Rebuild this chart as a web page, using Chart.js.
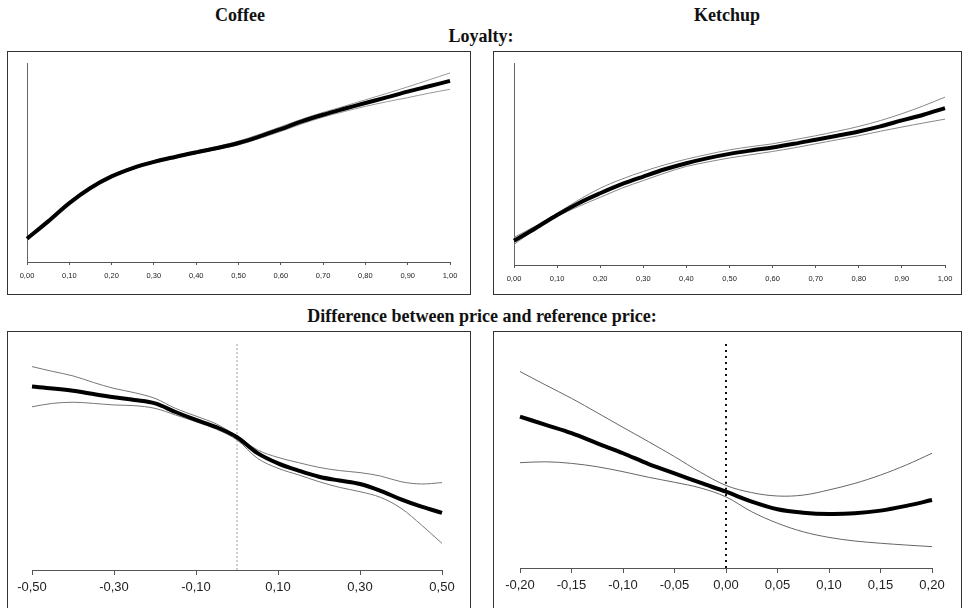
<!DOCTYPE html>
<html>
<head>
<meta charset="utf-8">
<title>Loyalty | Reference price</title>
<script src="https://cdn.jsdelivr.net/npm/chart.js@4.4.0/dist/chart.umd.min.js"></script>
<style>
  body { margin: 0; background: #fff; width: 962px; height: 608px; overflow: hidden; position: relative; font-family: "Liberation Serif", serif; }
  .ttl { position: absolute; font-weight: bold; font-size: 18px; line-height: 18px; color: #111; white-space: nowrap; transform: translateX(-50%); }
  .box { position: absolute; border: 1px solid #333; }
  .box canvas { position: absolute; left: 0; top: 0; }
</style>
</head>
<body>
<div class="ttl" style="left:240px; top:6px">Coffee</div>
<div class="ttl" style="left:727px; top:6px">Ketchup</div>
<div class="ttl" style="left:481px; top:27px">Loyalty:</div>
<div class="ttl" style="left:482px; top:307px">Difference between price and reference price:</div>

<div class="box" style="left:7px; top:51px; width:462px; height:242px"><canvas id="coffeeLoyalty" width="462" height="242"></canvas></div>
<div class="box" style="left:493px; top:51px; width:467px; height:242px"><canvas id="ketchupLoyalty" width="467" height="242"></canvas></div>
<div class="box" style="left:7px; top:331px; width:462px; height:290px"><canvas id="coffeePrice" width="462" height="276"></canvas></div>
<div class="box" style="left:493px; top:331px; width:467px; height:290px"><canvas id="ketchupPrice" width="467" height="276"></canvas></div>

<script>
// loyalty panels (y in relative units, no scale shown)
const loyaltyX = [0, 0.05, 0.10, 0.15, 0.20, 0.25, 0.30, 0.35, 0.40, 0.45, 0.50, 0.55, 0.60, 0.65, 0.70, 0.75, 0.80, 0.85, 0.90, 0.95, 1.00];
const loyaltyTicks = [0, 0.1, 0.2, 0.3, 0.4, 0.5, 0.6, 0.7, 0.8, 0.9, 1.0];

const coffeeLoyaltyFit   = [11.7, 20.4, 29.6, 37.2, 43.0, 47.2, 50.3, 52.8, 55.1, 57.3, 59.8, 63.1, 66.8, 70.7, 74.0, 77.0, 79.9, 82.7, 85.6, 88.3, 91.0];
const coffeeLoyaltyUpper = [12.3, 21.0, 30.2, 37.8, 43.6, 47.8, 50.9, 53.4, 55.8, 58.1, 60.8, 64.2, 68.0, 71.8, 75.2, 78.3, 81.5, 84.7, 88.0, 91.5, 95.0];
const coffeeLoyaltyLower = [11.1, 19.8, 29.0, 36.6, 42.4, 46.6, 49.7, 52.2, 54.4, 56.6, 58.8, 62.1, 65.6, 69.4, 72.8, 75.6, 78.2, 80.5, 82.6, 84.8, 86.8];

const ketchupLoyaltyFit   = [12.0, 18.2, 24.8, 30.6, 35.5, 40.0, 43.8, 47.4, 50.4, 52.9, 55.0, 56.7, 58.2, 60.0, 62.0, 64.0, 66.1, 68.6, 71.6, 74.4, 77.7];
const ketchupLoyaltyUpper = [13.7, 19.3, 25.6, 32.2, 38.0, 42.5, 46.3, 49.6, 52.4, 54.8, 57.0, 58.6, 60.0, 62.0, 64.0, 66.2, 68.6, 71.5, 74.9, 78.8, 83.1];
const ketchupLoyaltyLower = [10.2, 17.6, 24.0, 29.0, 33.5, 38.0, 41.8, 45.5, 48.8, 51.0, 53.0, 54.6, 56.2, 58.0, 60.0, 62.0, 64.0, 66.2, 68.3, 70.3, 72.2];

// price minus reference price
const coffeePriceX = [-0.50, -0.45, -0.40, -0.35, -0.30, -0.25, -0.20, -0.15, -0.10, -0.05, 0.00, 0.05, 0.10, 0.15, 0.20, 0.25, 0.30, 0.35, 0.40, 0.45, 0.50];
const coffeePriceTicks = [-0.5, -0.3, -0.1, 0.1, 0.3, 0.5];
const coffeePriceFit   = [80.8, 80.0, 79.0, 77.5, 76.1, 74.9, 73.4, 69.6, 66.1, 62.9, 58.5, 51.5, 47.0, 43.8, 41.1, 39.4, 37.9, 34.9, 31.1, 27.9, 25.2];
const coffeePriceUpper = [89.6, 87.5, 85.5, 82.6, 80.0, 78.1, 75.6, 71.2, 67.8, 64.3, 59.0, 52.9, 49.6, 47.3, 45.2, 43.8, 42.9, 41.4, 38.9, 37.9, 38.5];
const coffeePriceLower = [71.9, 73.4, 73.9, 73.4, 72.7, 72.4, 71.2, 68.3, 65.3, 62.0, 57.3, 49.2, 44.8, 41.9, 38.9, 36.4, 34.5, 32.0, 27.2, 19.8, 11.7];

const ketchupPriceX = [-0.200, -0.175, -0.150, -0.125, -0.100, -0.075, -0.050, -0.025, 0.000, 0.025, 0.050, 0.075, 0.100, 0.125, 0.150, 0.175, 0.200];
const ketchupPriceTicks = [-0.2, -0.15, -0.1, -0.05, 0, 0.05, 0.1, 0.15, 0.2];
const ketchupPriceFit   = [67.3, 63.6, 59.9, 55.4, 51.0, 46.2, 42.1, 37.9, 33.9, 29.5, 26.1, 24.6, 24.0, 24.3, 25.5, 27.6, 30.2];
const ketchupPriceUpper = [87.3, 81.3, 75.4, 69.0, 62.5, 56.1, 49.5, 42.6, 36.7, 33.5, 32.0, 32.4, 34.7, 37.6, 41.3, 45.8, 51.0];
const ketchupPriceLower = [46.8, 47.2, 46.5, 45.0, 42.8, 40.3, 38.1, 35.6, 31.6, 25.0, 19.9, 16.1, 13.6, 12.0, 11.0, 10.2, 9.5];

const referenceX = 0;
const yRange = [0, 100];

function fmt(v) {
  return v.toFixed(2).replace(".", ",");
}

// Chart.js paints dataset 0 last, so the fitted curve goes first in each list
function curve(xs, ys, color, width, dash) {
  return {
    data: xs.map((x, i) => ({ x: x, y: ys[i] })),
    borderColor: color,
    borderWidth: width,
    borderDash: dash || [],
    pointRadius: 0,
    tension: 0.35,
    fill: false,
    clip: 6
  };
}

function panelOptions(o) {
  return {
    responsive: false,
    animation: false,
    events: [],
    layout: { padding: { left: o.left, right: o.right, top: o.top, bottom: 0 } },
    plugins: { legend: { display: false }, tooltip: { enabled: false } },
    scales: {
      x: {
        type: "linear",
        min: o.min,
        max: o.max,
        afterBuildTicks: function (s) { s.ticks = o.ticks.map(v => ({ value: v })); },
        afterFit: function (s) { s.height = o.axisH; },
        grid: { display: true, drawOnChartArea: false, drawTicks: true, tickLength: o.tickLen, tickColor: "#555" },
        border: { display: true, color: "#555", width: 1 },
        ticks: {
          color: "#222",
          font: { family: "Liberation Sans", size: o.font },
          padding: o.pad,
          maxRotation: 0,
          autoSkip: false,
          callback: function (v) { return fmt(v); }
        }
      },
      y: {
        min: yRange[0],
        max: yRange[1],
        display: o.yLine,
        afterFit: function (s) { s.width = 0; },
        grid: { display: false },
        ticks: { display: false },
        border: { display: true, color: "#666", width: 1 }
      }
    }
  };
}

new Chart(document.getElementById("coffeeLoyalty"), {
  type: "line",
  data: {
    datasets: [
      curve(loyaltyX, coffeeLoyaltyFit, "#000", 4),
      curve(loyaltyX, coffeeLoyaltyUpper, "#999", 1),
      curve(loyaltyX, coffeeLoyaltyLower, "#999", 1)
    ]
  },
  options: panelOptions({ left: 19, right: 20, top: 11, axisH: 32, min: 0, max: 1, ticks: loyaltyTicks, tickLen: 3, pad: 6, font: 7.5, yLine: true })
});

new Chart(document.getElementById("ketchupLoyalty"), {
  type: "line",
  data: {
    datasets: [
      curve(loyaltyX, ketchupLoyaltyFit, "#000", 4),
      curve(loyaltyX, ketchupLoyaltyUpper, "#888", 1),
      curve(loyaltyX, ketchupLoyaltyLower, "#888", 1)
    ]
  },
  options: panelOptions({ left: 20, right: 16, top: 11, axisH: 29, min: 0, max: 1, ticks: loyaltyTicks, tickLen: 3, pad: 6, font: 7.5, yLine: true })
});

new Chart(document.getElementById("coffeePrice"), {
  type: "line",
  data: {
    datasets: [
      curve(coffeePriceX, coffeePriceFit, "#000", 4),
      curve(coffeePriceX, coffeePriceUpper, "#777", 1),
      curve(coffeePriceX, coffeePriceLower, "#777", 1),
      curve([referenceX, referenceX], yRange, "#999", 1, [2, 2])
    ]
  },
  options: panelOptions({ left: 24, right: 28, top: 11, axisH: 38, min: -0.5, max: 0.5, ticks: coffeePriceTicks, tickLen: 5, pad: 5, font: 13, yLine: false })
});

new Chart(document.getElementById("ketchupPrice"), {
  type: "line",
  data: {
    datasets: [
      curve(ketchupPriceX, ketchupPriceFit, "#000", 4),
      curve(ketchupPriceX, ketchupPriceUpper, "#666", 1),
      curve(ketchupPriceX, ketchupPriceLower, "#666", 1),
      curve([referenceX, referenceX], yRange, "#111", 2, [2, 4])
    ]
  },
  options: panelOptions({ left: 26, right: 29, top: 11, axisH: 40, min: -0.2, max: 0.2, ticks: ketchupPriceTicks, tickLen: 5, pad: 5, font: 13, yLine: false })
});
</script>
</body>
</html>
